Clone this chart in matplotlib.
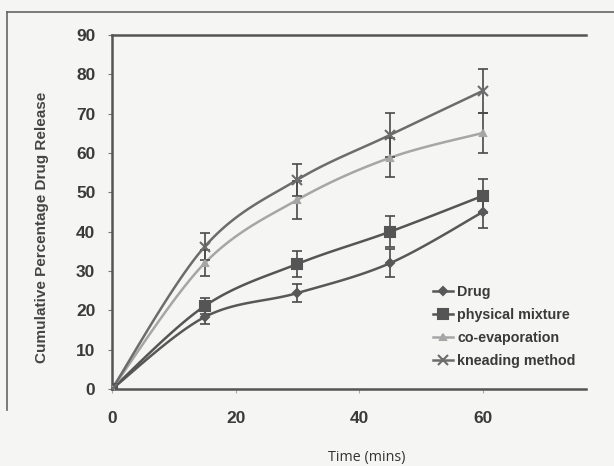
import numpy as np
import matplotlib.pyplot as plt
from matplotlib.lines import Line2D

time = [0, 15, 30, 45, 60]

drug = [0, 18.3, 24.4, 32.0, 45.0]
drug_err = [0, 1.7, 2.3, 3.5, 4.0]

physical = [0, 21.1, 31.8, 40.0, 49.1]
physical_err = [0, 2.0, 3.2, 4.0, 4.3]

coevap = [0, 32.0, 48.1, 58.8, 65.1]
coevap_err = [0, 3.3, 4.8, 5.0, 5.0]

kneading = [0, 36.2, 53.2, 64.6, 75.8]
kneading_err = [0, 3.5, 4.1, 5.6, 5.6]

labels = ["Drug", "physical mixture", "co-evaporation", "kneading method"]


def smooth(x, y, n=30):
    # catmull-rom style curve through the points, like excel's smoothed lines
    x = np.asarray(x, float)
    y = np.asarray(y, float)
    px = np.concatenate([[x[0]], x, [x[-1]]])
    py = np.concatenate([[y[0]], y, [y[-1]]])
    xs, ys = [], []
    t = np.linspace(0, 1, n)
    for i in range(1, len(px) - 2):
        p0, p1, p2, p3 = (np.array([px[j], py[j]]) for j in range(i - 1, i + 3))
        c1 = p1 + (p2 - p0) / 6
        c2 = p2 - (p3 - p1) / 6
        b = ((1 - t) ** 3)[:, None] * p1 + (3 * (1 - t) ** 2 * t)[:, None] * c1 \
            + (3 * (1 - t) * t ** 2)[:, None] * c2 + (t ** 3)[:, None] * p2
        xs.append(b[:, 0])
        ys.append(b[:, 1])
    return np.concatenate(xs), np.concatenate(ys)


bg = "#f5f5f3"
fig = plt.figure(figsize=(6.14, 4.66), dpi=100, facecolor=bg)
ax = fig.add_axes([112 / 614, 1 - 389 / 466, (586 - 112) / 614, (389 - 35) / 466])
ax.set_facecolor(bg)

series = [
    (drug, drug_err, "#585858", "D", 4),
    (physical, physical_err, "#555555", "s", 6.5),
    (coevap, coevap_err, "#a6a6a6", "^", 5),
    (kneading, kneading_err, "#6c6c6c", "x", 7),
]

handles = []
for (vals, err, col, mk, ms), lab in zip(series, labels):
    sx, sy = smooth(time, vals)
    ax.plot(sx, sy, color=col, lw=1.8, zorder=3)
    ax.errorbar(time, vals, yerr=err, fmt="none", ecolor="#4a4a4a", elinewidth=1.2,
                capsize=3.5, capthick=1.2, zorder=4)
    ax.plot(time, vals, ls="none", marker=mk, color=col, ms=ms, mew=1.5, zorder=5)
    handles.append(Line2D([], [], color=col, lw=1.8, marker=mk, ms=ms, mew=1.5))

ax.set_xlim(0, 76.7)
ax.set_ylim(0, 90)
ax.set_xticks([0, 20, 40, 60])
ax.set_yticks(range(0, 91, 10))
ax.spines["right"].set_visible(False)
for s in ["left", "bottom", "top"]:
    ax.spines[s].set_color("#555555")
    ax.spines[s].set_linewidth(1.8)
ax.tick_params(axis="y", length=3, color="#777777", pad=9, labelsize=12.5, labelcolor="#3a3a3a")
ax.tick_params(axis="x", length=3, color="#aaaaaa", pad=13, labelsize=12.5, labelcolor="#3a3a3a")
for lbl in ax.get_xticklabels() + ax.get_yticklabels():
    lbl.set_fontweight("bold")
    lbl.set_family("Liberation Sans")

fig.text(42 / 614, 1 - 227 / 466, "Cumulative Percentage Drug Release", rotation=90,
         ha="center", va="center", fontsize=11, fontweight="bold", color="#444444",
         family="Liberation Sans")
fig.text(367 / 614, 1 - 457 / 466, "Time (mins)", ha="center", va="center",
         fontsize=10.3, color="#333333", family="Open Sans")

leg = ax.legend(handles, labels, loc="upper left", bbox_to_anchor=(0.665, 0.31),
                frameon=False, handlelength=1.4, handletextpad=0.3, labelspacing=0.62,
                borderaxespad=0, prop={"family": "Liberation Sans", "weight": "bold", "size": 10.3})
for t in leg.get_texts():
    t.set_color("#3a3a3a")

# outer frame of the scanned chart
fig.add_artist(Line2D([7 / 614, 1.0], [1 - 12 / 466] * 2, color="#666666", lw=1.2))
fig.add_artist(Line2D([7 / 614] * 2, [1 - 12 / 466, 1 - 410 / 466], color="#666666", lw=1.2))

fig.savefig("out.png", dpi=100, facecolor=bg)
